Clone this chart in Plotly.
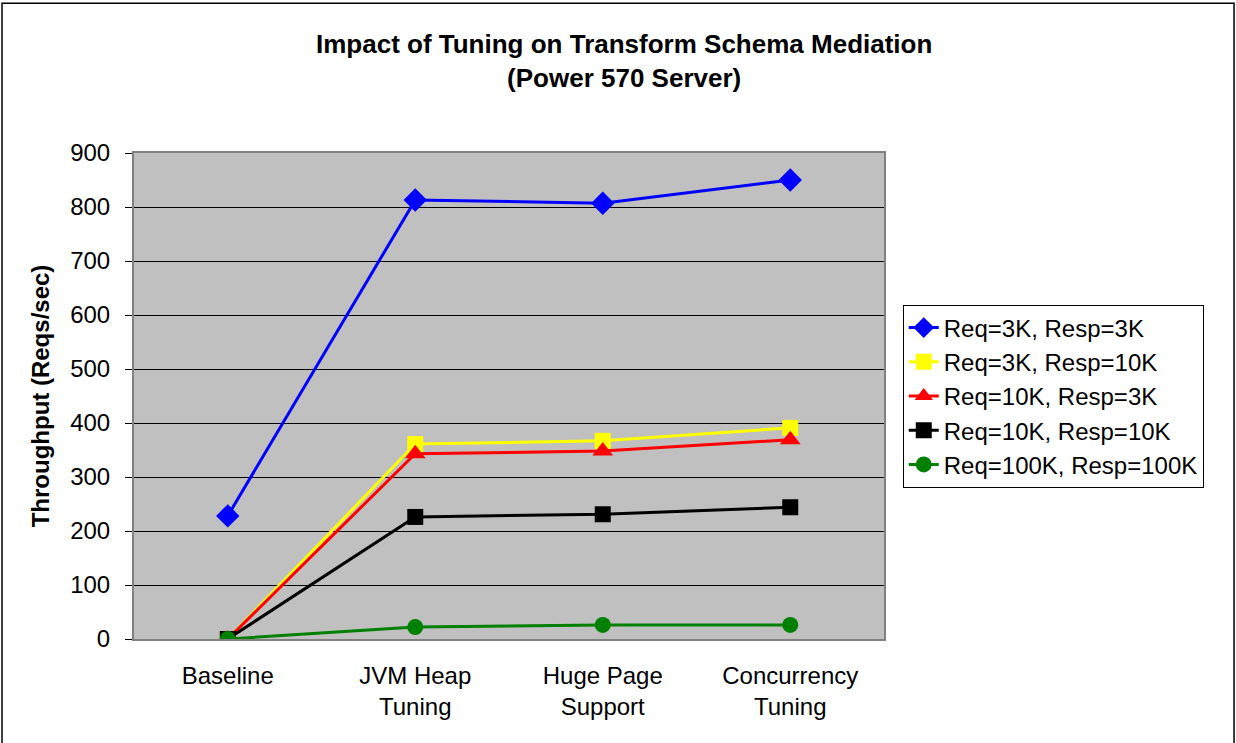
import plotly.graph_objects as go

categories = ['Baseline', 'JVM Heap<br>Tuning', 'Huge Page<br>Support', 'Concurrency<br>Tuning']

req3k_resp3k = [228, 813, 807, 850]
req3k_resp10k = [0, 361, 367, 391]
req10k_resp3k = [0, 343, 348, 369]
req10k_resp10k = [0, 226, 231, 244]
req100k_resp100k = [0, 22, 26, 26]

series = [
    ('Req=3K, Resp=3K', req3k_resp3k, '#0000FF', 'diamond', 18),
    ('Req=3K, Resp=10K', req3k_resp10k, '#FFFF00', 'square', 16),
    ('Req=10K, Resp=3K', req10k_resp3k, '#FF0000', 'triangle-up', 18),
    ('Req=10K, Resp=10K', req10k_resp10k, '#000000', 'square', 16),
    ('Req=100K, Resp=100K', req100k_resp100k, '#008000', 'circle', 16),
]

fig = go.Figure()
for name, vals, color, symbol, size in series:
    fig.add_trace(go.Scatter(
        x=categories, y=vals, name=name, mode='lines+markers',
        line=dict(color=color, width=3),
        marker=dict(symbol=symbol, size=size, color=color),
    ))

fig.update_layout(
    width=1236, height=743,
    margin=dict(l=134, r=352, t=153, b=104),
    paper_bgcolor='white',
    plot_bgcolor='#C0C0C0',
    font=dict(family='Liberation Sans, Arial, sans-serif', size=24, color='black'),
    title=dict(
        text='<b>Impact of Tuning on Transform Schema Mediation<br>(Power 570 Server)</b>',
        x=0.505, xref='container', xanchor='center', y=0.929, yanchor='middle',
        font=dict(size=26),
    ),
    legend=dict(
        x=1.025, xanchor='left', y=0.5, yanchor='middle',
        bordercolor='black', borderwidth=1, bgcolor='white',
        font=dict(size=24),
    ),
    shapes=[dict(
        type='rect', xref='paper', yref='paper',
        x0=-0.176, x1=1.4667, y0=-0.3, y1=1.308,
        line=dict(color='black', width=1.5), fillcolor='rgba(0,0,0,0)',
    )],
)

fig.update_xaxes(
    range=[-0.5, 3.5],
    showline=True, linecolor='#808080', linewidth=2, mirror=True,
    showgrid=False, ticks='', tickfont=dict(size=24), ticklabelstandoff=14,
)
fig.update_yaxes(
    range=[0, 900], dtick=100, showgrid=True, gridcolor='black', gridwidth=1,
    showline=True, linecolor='#808080', linewidth=2, mirror=True,
    ticks='outside', ticklen=7, tickcolor='black', tickfont=dict(size=24),
    ticklabelstandoff=10,
    title=dict(text='<b>Throughput (Reqs/sec)</b>', font=dict(size=24), standoff=14),
    zeroline=False,
)

fig.write_html('out.html', config={'displayModeBar': False},
               post_script="document.body.style.margin='0';")
